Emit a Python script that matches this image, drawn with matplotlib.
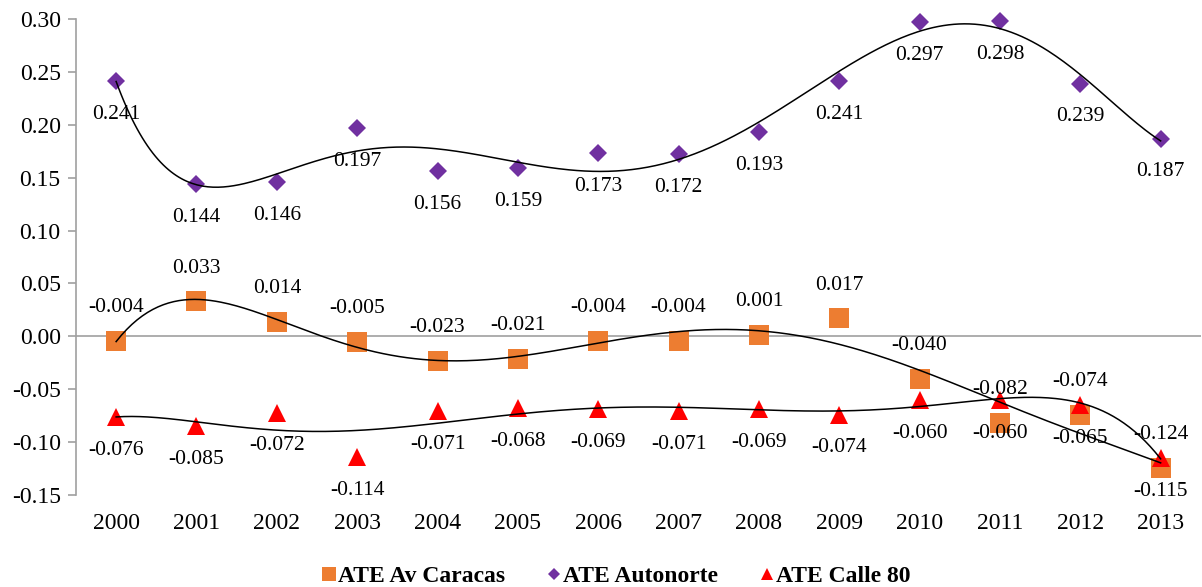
import matplotlib.pyplot as plt
import numpy as np

plt.rcParams['font.family'] = ['Liberation Serif', 'DejaVu Serif']

years = ['2000', '2001', '2002', '2003', '2004', '2005', '2006',
         '2007', '2008', '2009', '2010', '2011', '2012', '2013']

caracas = [-0.004, 0.033, 0.014, -0.005, -0.023, -0.021, -0.004,
           -0.004, 0.001, 0.017, -0.040, -0.082, -0.074, -0.124]
autonorte = [0.241, 0.144, 0.146, 0.197, 0.156, 0.159, 0.173,
             0.172, 0.193, 0.241, 0.297, 0.298, 0.239, 0.187]
calle80 = [-0.076, -0.085, -0.072, -0.114, -0.071, -0.068, -0.069,
           -0.071, -0.069, -0.074, -0.060, -0.060, -0.065, -0.115]

yticks = [-0.15, -0.10, -0.05, 0.00, 0.05, 0.10, 0.15, 0.20, 0.25, 0.30]

fig = plt.figure(figsize=(12.02, 5.87), dpi=100)
ax = fig.add_axes([0.0632, 0.1567, 0.9358, 0.8109])

x = np.arange(len(years))
xs = np.linspace(0, len(years) - 1, 400)

series = [
    (caracas, 'ATE Av Caracas', '#ED7D31', 's', 14, 24),
    (autonorte, 'ATE Autonorte', '#7030A0', 'D', 9, -24),
    (calle80, 'ATE Calle 80', '#FF0000', '^', 13, -24),
]

for vals, name, color, marker, ms, off in series:
    ax.plot(x, vals, linestyle='none', marker=marker, markersize=ms,
            color=color, markeredgewidth=0, label=name, zorder=3,
            clip_on=False)
    # 6th order polynomial trend line
    p = np.polynomial.Polynomial.fit(x, vals, 6)
    ax.plot(xs, p(xs), color='black', lw=1.1, zorder=4, clip_on=False)
    for xi, v in zip(x, vals):
        ax.annotate(f'{v:.3f}', (xi, v), xytext=(0, off),
                    textcoords='offset points', ha='center', va='center',
                    fontsize=15.5, zorder=5)

ax.axhline(0, color='#A0A0A0', lw=1.2, zorder=1)

ax.set_xlim(-0.5, len(years) - 0.5)
ax.set_ylim(-0.15, 0.30)
ax.set_yticks(yticks)
ax.set_yticklabels([f'{t:.2f}' for t in yticks])
ax.set_xticks(x)
ax.set_xticklabels(years)

for s in ['top', 'right', 'bottom']:
    ax.spines[s].set_visible(False)
ax.spines['left'].set_color('#A0A0A0')
ax.spines['left'].set_linewidth(1.2)
ax.tick_params(axis='y', colors='#A0A0A0', labelcolor='black', length=6,
               width=1.2, labelsize=17, pad=5)
ax.tick_params(axis='x', length=0, labelsize=17, pad=13)

fig.legend(loc='center', bbox_to_anchor=(0.513, 0.018), ncol=3, frameon=False,
           handlelength=0.5, handletextpad=0.15, columnspacing=1.8,
           markerscale=0.7, prop={'weight': 'bold', 'size': 17})

fig.savefig('out.png', dpi=100)
